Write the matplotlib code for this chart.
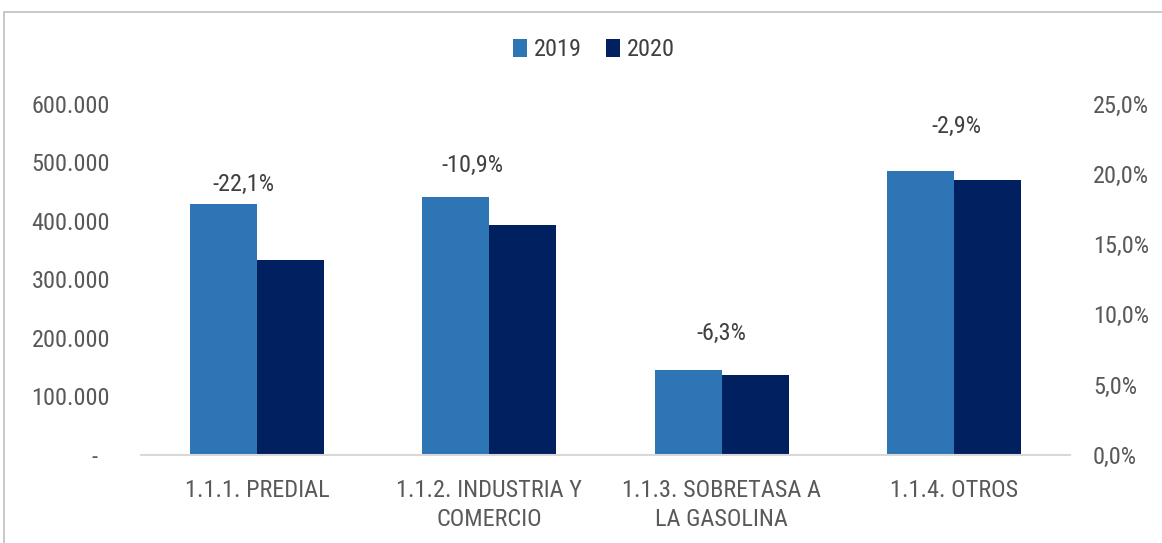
import matplotlib
matplotlib.use("Agg")
import matplotlib.pyplot as plt
from matplotlib import font_manager
from matplotlib.patches import Rectangle
import matplotlib.transforms as mtransforms
import numpy as np

categories = ["1.1.1. PREDIAL", "1.1.2. INDUSTRIA Y\nCOMERCIO", "1.1.3. SOBRETASA A\nLA GASOLINA", "1.1.4. OTROS"]
values_2019 = [428000, 440000, 145000, 484000]
values_2020 = [333400, 392000, 135900, 470000]
variation_labels = ["-22,1%", "-10,9%", "-6,3%", "-2,9%"]
left_ticks = [0, 100000, 200000, 300000, 400000, 500000, 600000]
left_tick_labels = ["-", "100.000", "200.000", "300.000", "400.000", "500.000", "600.000"]
right_ticks = [0, 5, 10, 15, 20, 25]
right_tick_labels = ["0,0%", "5,0%", "10,0%", "15,0%", "20,0%", "25,0%"]
# label anchor positions (category units, left-axis units)
label_x = [-0.057, 0.929, 2.001, 3.013]
label_y = [461000, 495000, 208000, 561600]

# pick a condensed sans font if one is installed
candidates = [("LiberationSansNarrow-Regular", 18.5), ("RobotoCondensed-Regular", 17.5),
              ("DejaVuSansCondensed.ttf", 16.5)]
fp = None
fs = 15
for key, size in candidates:
    for f in font_manager.fontManager.ttflist:
        if key in f.fname:
            fp = font_manager.FontProperties(fname=f.fname)
            fs = size
            break
    if fp is not None:
        break
if fp is None:
    fp = font_manager.FontProperties(family="Liberation Sans")


def F(size=None):
    p = fp.copy()
    p.set_size(size or fs)
    return p


PX = 0.72  # points per pixel at dpi 100
W, H = 1162, 543
fig = plt.figure(figsize=(W / 100, H / 100), dpi=100)
ax_l, ax_r, ax_b, ax_t = 141, 1070, 455, 103.5
ax = fig.add_axes([ax_l / W, 1 - ax_b / H, (ax_r - ax_l) / W, (ax_b - ax_t) / H])

# frame around chart
fig.patches.append(Rectangle((4 / W, -0.01), 1.2, 1 - 12 / H + 0.01, transform=fig.transFigure,
                             fill=False, edgecolor="#BFBFBF", linewidth=1.2))

x = np.arange(len(categories))
bw = 0.2885
c19, c20 = "#2E75B6", "#002060"
ax.bar(x - bw / 2, values_2019, bw, color=c19, label="2019", zorder=2)
ax.bar(x + bw / 2, values_2020, bw, color=c20, label="2020", zorder=2)

ax.set_xlim(-0.5, 3.5)
ax.set_ylim(0, 600000)
for s in ["top", "right", "left"]:
    ax.spines[s].set_visible(False)
ax.spines["bottom"].set_color("#D9D9D9")
ax.spines["bottom"].set_linewidth(1.5)
ax.set_xticks(x)
ax.set_xticklabels(categories, fontproperties=F(), color="#595959", linespacing=1.32, va="top")
ax.set_yticks(left_ticks)
ax.set_yticklabels(left_tick_labels, fontproperties=F(), color="#595959")
ax.tick_params(axis="y", length=0, pad=31 * PX)
ax.tick_params(axis="x", length=0, pad=24 * PX)
zero_lbl = ax.get_yticklabels()[0]
zero_lbl.set_transform(zero_lbl.get_transform() +
                       mtransforms.ScaledTranslation(-13 / 100, 0, fig.dpi_scale_trans))

ax2 = ax.twinx()
ax2.set_ylim(0, 25)
ax2.set_yticks(right_ticks)
ax2.set_yticklabels(right_tick_labels, fontproperties=F(), color="#595959")
ax2.tick_params(axis="y", length=0, pad=23 * PX)
for s in ax2.spines.values():
    s.set_visible(False)

for lx, ly, t in zip(label_x, label_y, variation_labels):
    ax.text(lx, ly, t, ha="center", va="center", fontproperties=F(), color="#404040")

leg = ax.legend(loc="center", bbox_to_anchor=(594 / W, 1 - 50 / H), bbox_transform=fig.transFigure,
                ncol=2, frameon=False, prop=F(), handlelength=0.55, handleheight=0.7,
                handletextpad=0.3, columnspacing=1.0, labelcolor="#404040")

fig.savefig("out.png", dpi=100)
